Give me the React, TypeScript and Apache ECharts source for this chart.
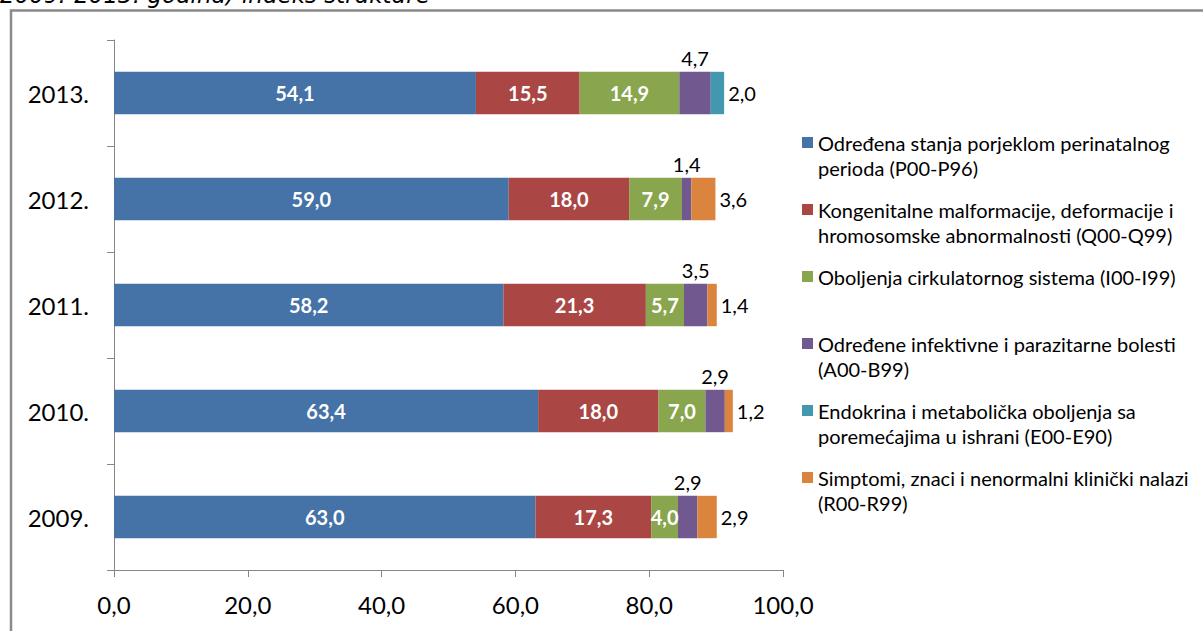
import React, { useEffect, useRef } from 'react';
import * as echarts from 'echarts';

const title = '2009.-2013. godina) indeks strukture';
const categories = ['2009.', '2010.', '2011.', '2012.', '2013.'];
const seriesNames = [
  'Određena stanja porjeklom perinatalnog perioda (P00-P96)',
  'Kongenitalne malformacije, deformacije i hromosomske abnormalnosti (Q00-Q99)',
  'Oboljenja cirkulatornog sistema (I00-I99)',
  'Određene infektivne i parazitarne bolesti (A00-B99)',
  'Endokrina i metabolička oboljenja sa poremećajima u ishrani (E00-E90)',
  'Simptomi, znaci i nenormalni klinički nalazi (R00-R99)',
];
const legendLines = [
  ['Određena stanja porjeklom perinatalnog', 'perioda (P00-P96)'],
  ['Kongenitalne malformacije, deformacije i', 'hromosomske abnormalnosti (Q00-Q99)'],
  ['Oboljenja cirkulatornog sistema (I00-I99)'],
  ['Određene infektivne i parazitarne bolesti', '(A00-B99)'],
  ['Endokrina i metabolička oboljenja sa', 'poremećajima u ishrani (E00-E90)'],
  ['Simptomi, znaci i nenormalni klinički nalazi', '(R00-R99)'],
];
const perinatal = [63.0, 63.4, 58.2, 59.0, 54.1];
const congenital = [17.3, 18.0, 21.3, 18.0, 15.5];
const circulatory = [4.0, 7.0, 5.7, 7.9, 14.9];
const infectious = [2.9, 2.9, 3.5, 1.4, 4.7];
const endocrine = [null, null, null, null, 2.0];
const symptoms = [2.9, 1.2, 1.4, 3.6, null];
const xMin = 0;
const xMax = 100;
const xStep = 20;
const colors = ['#4572A7', '#AA4643', '#89A54E', '#71588F', '#4198AF', '#DB843D'];
const labelPositions = ['inside', 'inside', 'inside', 'top', 'right', 'right'];
const allValues = [perinatal, congenital, circulatory, infectious, endocrine, symptoms];

const fmt = (v: number) => v.toFixed(1).replace('.', ',');
const FONT = 'Lato';

export default function App() {
  const ref = useRef<HTMLDivElement>(null);
  useEffect(() => {
    if (!ref.current) return;
    const chart = echarts.init(ref.current, undefined, { renderer: 'svg' });
    const series = allValues.map((vals, i) => {
      const inside = labelPositions[i] === 'inside';
      return {
        name: seriesNames[i],
        type: 'bar',
        stack: 'total',
        data: vals,
        barCategoryGap: '60%',
        itemStyle: { color: colors[i] },
        label: {
          show: true,
          position: labelPositions[i],
          distance: inside ? 0 : 4,
          color: inside ? '#ffffff' : '#000000',
          fontFamily: FONT,
          fontWeight: inside ? 'bold' : 'normal',
          fontSize: 20,
          formatter: (p: any) => (p.value == null ? '' : fmt(p.value)),
        },
      };
    });
    chart.setOption({
      animation: false,
      backgroundColor: '#ffffff',
      graphic: [
        {
          type: 'rect',
          shape: { x: 11, y: 10.5, width: 1260, height: 700 },
          style: { fill: 'none', stroke: '#8a8a8a', lineWidth: 2.5 },
          silent: true,
        },
        {
          type: 'text',
          x: 0,
          y: -17,
          style: {
            text: title,
            fontFamily: 'DejaVu Sans',
            fontStyle: 'italic',
            fontSize: 23,
            fill: '#000000',
          },
          silent: true,
        },
      ],
      grid: { left: 114, right: 420, top: 40, bottom: 61, containLabel: false },
      xAxis: {
        type: 'value',
        min: xMin,
        max: xMax,
        interval: xStep,
        axisLine: { show: true, lineStyle: { color: '#868686', width: 1 } },
        axisTick: { show: true, length: 7, lineStyle: { color: '#868686' } },
        splitLine: { show: false },
        axisLabel: {
          formatter: (v: number) => fmt(v),
          fontFamily: FONT,
          fontSize: 24,
          color: '#000000',
          margin: 22,
        },
      },
      yAxis: {
        type: 'category',
        data: categories,
        axisLine: { show: true, lineStyle: { color: '#868686', width: 1 } },
        axisTick: { show: true, length: 7, alignWithLabel: false, lineStyle: { color: '#868686' } },
        axisLabel: { fontFamily: FONT, fontSize: 24, color: '#000000', margin: 25 },
      },
      legend: {
        orient: 'vertical',
        left: 802,
        top: 105,
        padding: 0,
        itemGap: -8,
        itemWidth: 11,
        itemHeight: 11,
        icon: 'rect',
        selectedMode: false,
        data: seriesNames,
        formatter: (name: string) => {
          const lines = legendLines[seriesNames.indexOf(name)];
          return ' \n' + lines.join('\n') + (lines.length === 1 ? '\n ' : '');
        },
        textStyle: { fontFamily: FONT, fontSize: 20, lineHeight: 25, color: '#000000' },
      },
      series,
    });
    return () => chart.dispose();
  }, []);
  return (
    <div
      ref={ref}
      style={{ position: 'absolute', left: 0, top: 0, width: 1203, height: 631 }}
    />
  );
}
